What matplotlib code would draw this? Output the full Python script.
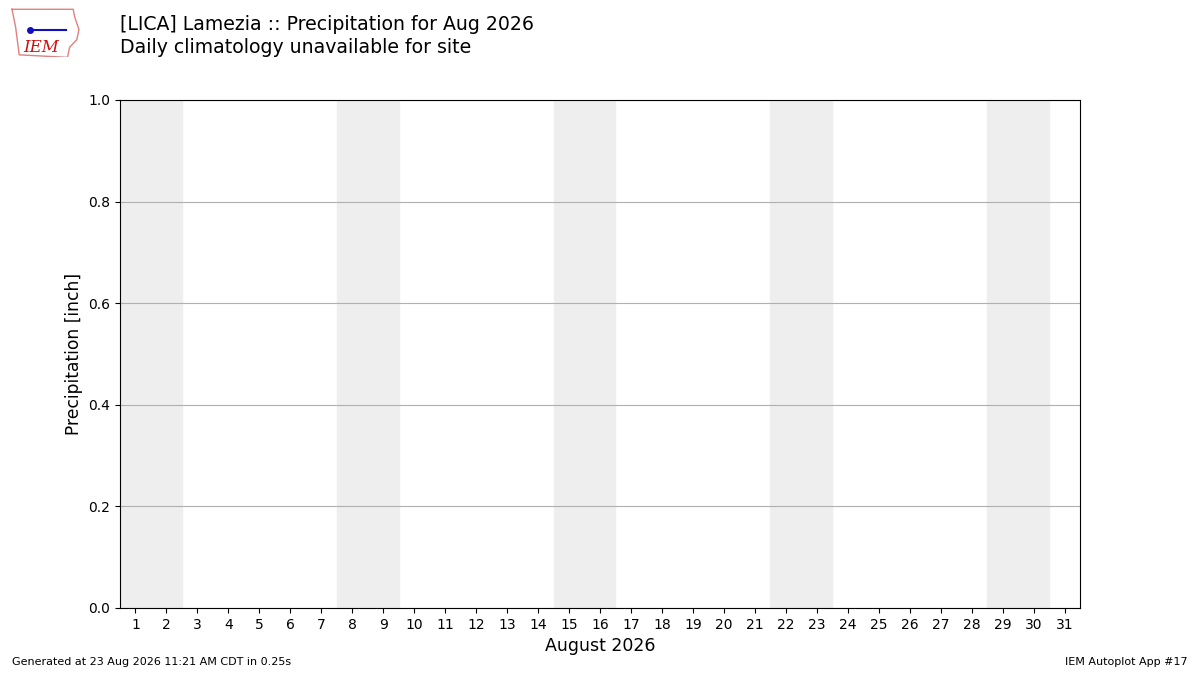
import matplotlib
matplotlib.use('Agg')
import matplotlib.pyplot as plt

# data
days = list(range(1, 32))
weekend_starts = [1, 8, 15, 22, 29]   # Sat of each weekend, Aug 2026
precip = [0.0] * 31                   # no obs shown
yticks = [0.0, 0.2, 0.4, 0.6, 0.8, 1.0]

fig = plt.figure(figsize=(12, 6.75), dpi=100)
ax = fig.add_axes([0.1, 0.0993, 0.8, 0.7526])

for d in weekend_starts:
    ax.axvspan(d - 0.5, d + 1.5, color='#eeeeee', zorder=0)

ax.bar(days, precip, color='b', zorder=2)

ax.set_xlim(0.5, 31.5)
ax.set_ylim(0, 1.0)
ax.set_xticks(days)
ax.set_xticklabels([str(d) for d in days])
ax.set_yticks(yticks)
ax.yaxis.grid(True, color='#b0b0b0', lw=0.8, zorder=1)
ax.set_axisbelow(True)
ax.set_xlabel('August 2026', fontsize=12.5)
ax.set_ylabel('Precipitation [inch]', fontsize=12.3)

fig.text(0.1, 0.964, '[LICA] Lamezia :: Precipitation for Aug 2026', fontsize=13.6, va='center')
fig.text(0.1, 0.929, 'Daily climatology unavailable for site', fontsize=13.6, va='center')

fig.text(0.01, 0.015, 'Generated at 23 Aug 2026 11:21 AM CDT in 0.25s', fontsize=8)
fig.text(0.99, 0.015, 'IEM Autoplot App #17', fontsize=8, ha='right')

# rough logo
lax = fig.add_axes([0.007, 0.915, 0.06, 0.075])
lax.axis('off')
lax.set_xlim(0, 1)
lax.set_ylim(0, 1)
ox = [0.05, 0.9, 0.92, 0.98, 0.95, 0.85, 0.82, 0.15, 0.1, 0.05]
oy = [0.95, 0.95, 0.8, 0.55, 0.35, 0.2, 0.0, 0.05, 0.6, 0.95]
lax.plot(ox, oy, color='#e08080', lw=1)
lax.plot([0.3, 0.8], [0.55, 0.55], color='#1010c0', lw=1.5)
lax.plot([0.3], [0.55], 'o', color='#1010c0', ms=4)
lax.text(0.45, 0.2, 'IEM', color='#cc1111', fontsize=12, family='DejaVu Serif',
         style='italic', ha='center', va='center')

fig.savefig('out.png')
